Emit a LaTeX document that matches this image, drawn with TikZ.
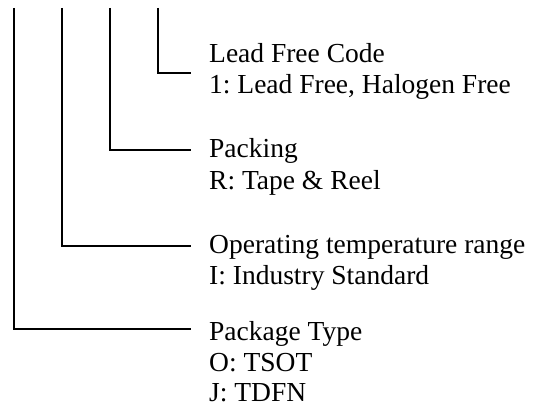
\documentclass[tikz,border=0pt]{standalone}
\usepackage{fontspec}
\setmainfont{Liberation Serif}
\frenchspacing
\begin{document}
\begin{tikzpicture}[x=1pt,y=-1pt,
  conn/.style={line width=1.4pt},
  lbl/.style={anchor=base west, inner sep=0pt, font=\fontsize{27.5}{31}\selectfont}]
\useasboundingbox (0,0) rectangle (533,411);
% texts
\node[lbl] (lfc)  at (209,63)  {Lead Free Code};
\node[lbl] (lfc1) at (209,94)  {1: Lead Free, Halogen Free};
\node[lbl] (pk)   at (209,158) {Packing};
\node[lbl] (pk1)  at (209,190) {R: Tape \& Reel};
\node[lbl] (op)   at (209,254) {Operating temperature range};
\node[lbl] (op1)  at (209,285) {I: Industry Standard};
\node[lbl] (pt)   at (209,341) {Package Type};
\node[lbl] (pt1)  at (209,372) {O: TSOT};
\node[lbl] (pt2)  at (209,402) {J: TDFN};
% connector ends
\coordinate (t1) at (14,8);
\coordinate (t2) at (62,8);
\coordinate (t3) at (110,8);
\coordinate (t4) at (158,8);
\coordinate (e1) at (190.5,329);
\coordinate (e2) at (190.5,246);
\coordinate (e3) at (190.5,150);
\coordinate (e4) at (190.5,73);
\draw[conn] (t1) |- (e1);
\draw[conn] (t2) |- (e2);
\draw[conn] (t3) |- (e3);
\draw[conn] (t4) |- (e4);
\end{tikzpicture}
\end{document}
